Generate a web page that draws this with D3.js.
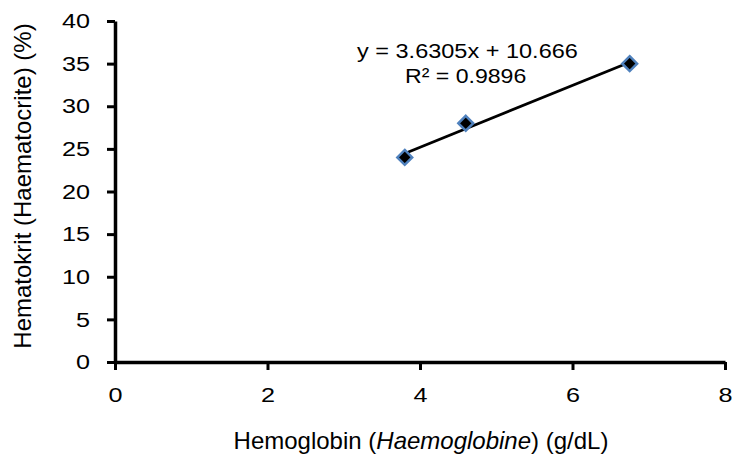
<!DOCTYPE html>
<html>
<head>
<meta charset="utf-8">
<script src="https://cdn.jsdelivr.net/npm/d3@7"></script>
<style>
  body { margin: 0; background: #fff; }
  svg text { font-family: "Liberation Sans", Arial, sans-serif; fill: #000; }
</style>
</head>
<body>
<div id="viz"></div>
<script>
const hemoglobin = [3.8, 4.6, 6.75];
const hematokrit = [24, 28, 35];
const xTicks = [0, 2, 4, 6, 8];
const yTicks = [0, 5, 10, 15, 20, 25, 30, 35, 40];
const slope = 3.6305;
const intercept = 10.666;
const equationText = 'y = 3.6305x + 10.666';
const r2Text = 'R² = 0.9896';

const width = 732;
const height = 459;

const svg = d3.select('#viz').append('svg')
  .attr('width', width)
  .attr('height', height);

const xScale = d3.scaleLinear()
  .domain([0, 8])
  .range([115, 725]);

const yScale = d3.scaleLinear()
  .domain([0, 40])
  .range([362, 21]);

const data = hemoglobin.map((x, i) => ({ x, y: hematokrit[i] }));

// axes
const xAxis = svg.append('g')
  .attr('transform', `translate(0,${yScale(0)})`)
  .call(d3.axisBottom(xScale).tickValues(xTicks).tickSize(8).tickPadding(17).tickSizeOuter(0));

const yAxis = svg.append('g')
  .attr('transform', `translate(${xScale(0)},0)`)
  .call(d3.axisLeft(yScale).tickValues(yTicks).tickSize(8).tickPadding(17).tickSizeOuter(0));

[xAxis, yAxis].forEach((g) => {
  g.select('.domain').attr('stroke', '#000').attr('stroke-width', 3.5);
  g.selectAll('.tick line').attr('stroke', '#000').attr('stroke-width', 3);
  g.selectAll('.tick text').style('font-size', '21px');
});

// the original font is a bit wider than Liberation Sans, stretch the labels
xAxis.selectAll('.tick text').attr('transform', 'scale(1.2,1)');
yAxis.selectAll('.tick text')
  .attr('x', 0)
  .attr('transform', 'translate(-25,0) scale(1.2,1)');

// trendline
const xExtent = d3.extent(hemoglobin);
svg.append('line')
  .attr('x1', xScale(xExtent[0]))
  .attr('y1', yScale(slope * xExtent[0] + intercept))
  .attr('x2', xScale(xExtent[1]))
  .attr('y2', yScale(slope * xExtent[1] + intercept))
  .attr('stroke', '#000')
  .attr('stroke-width', 2.75);

// markers
svg.selectAll('path.point')
  .data(data)
  .enter()
  .append('path')
  .attr('class', 'point')
  .attr('d', d3.symbol().type(d3.symbolDiamond2).size(140))
  .attr('transform', d => `translate(${xScale(d.x)},${yScale(d.y)})`)
  .attr('fill', '#000')
  .attr('stroke', '#4f81bd')
  .attr('stroke-width', 2.5);

// equation
svg.append('text')
  .attr('transform', 'translate(357,58) scale(1.12,1)')
  .style('font-size', '21px')
  .text(equationText);

svg.append('text')
  .attr('transform', 'translate(405,83) scale(1.1,1)')
  .style('font-size', '21px')
  .text(r2Text);

// axis titles
const xTitle = svg.append('text')
  .attr('x', 421)
  .attr('y', 449)
  .attr('text-anchor', 'middle')
  .style('font-size', '24px');
xTitle.append('tspan').text('Hemoglobin (');
xTitle.append('tspan').style('font-style', 'italic').text('Haemoglobine');
xTitle.append('tspan').text(') (g/dL)');

svg.append('text')
  .attr('transform', 'translate(31,186) rotate(-90)')
  .attr('text-anchor', 'middle')
  .style('font-size', '24px')
  .text('Hematokrit (Haematocrite) (%)');
</script>
</body>
</html>
